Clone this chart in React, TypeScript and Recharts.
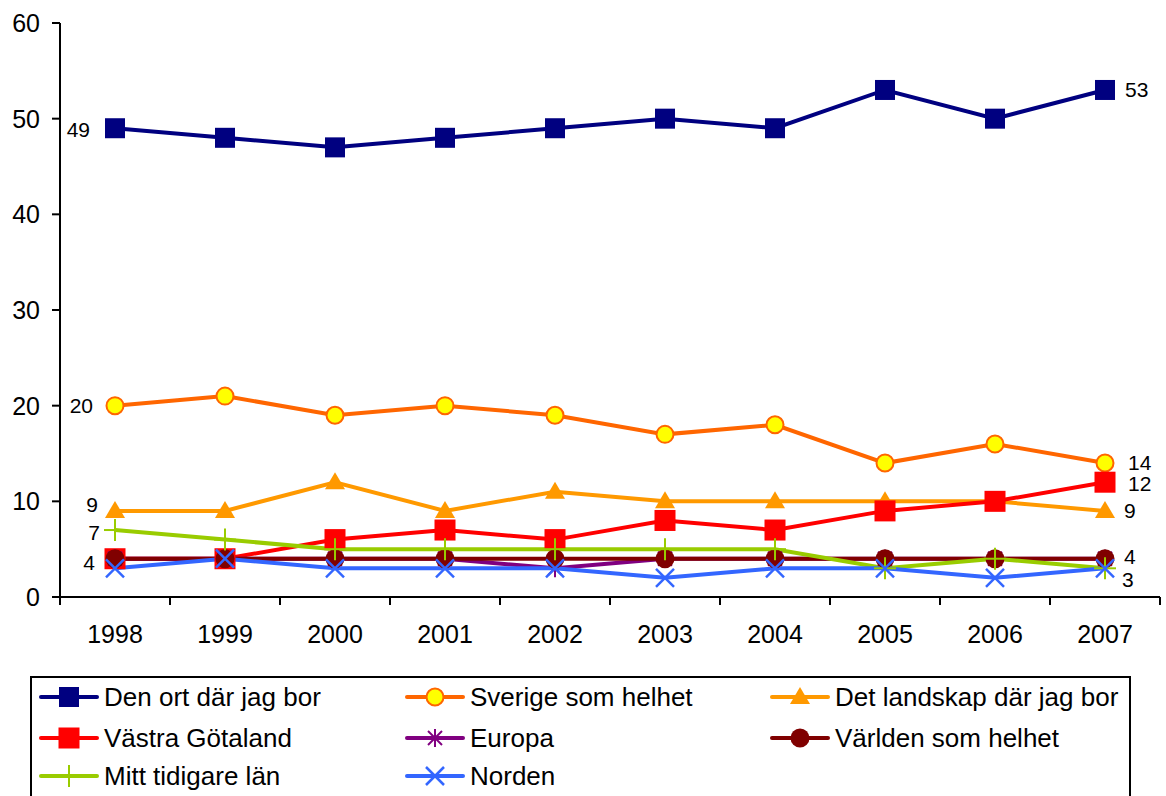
import { LabelList, Legend, Line, LineChart, XAxis, YAxis } from "recharts";

const years = ["1998", "1999", "2000", "2001", "2002", "2003", "2004", "2005", "2006", "2007"];
const denOrt = [49, 48, 47, 48, 49, 50, 49, 53, 50, 53];
const sverige = [20, 21, 19, 20, 19, 17, 18, 14, 16, 14];
const landskap = [9, 9, 12, 9, 11, 10, 10, 10, 10, 9];
const vastra = [4, 4, 6, 7, 6, 8, 7, 9, 10, 12];
const europa = [4, 4, 4, 4, 3, 4, 4, 4, 4, 4];
const varlden = [4, 4, 4, 4, 4, 4, 4, 4, 4, 4];
const mitt = [7, 6, 5, 5, 5, 5, 5, 3, 4, 3];
const norden = [3, 4, 3, 3, 3, 2, 3, 3, 2, 3];
const yTicks = [0, 10, 20, 30, 40, 50, 60];

const data = years.map((year, i) => ({
  year,
  denOrt: denOrt[i],
  sverige: sverige[i],
  landskap: landskap[i],
  vastra: vastra[i],
  europa: europa[i],
  varlden: varlden[i],
  mitt: mitt[i],
  norden: norden[i],
}));

type Marker = "square" | "bigsquare" | "ring" | "triangle" | "star" | "circle" | "plus" | "cross";

type LabelPos = { dx: number; dy: number };

interface SeriesDef {
  key: string;
  name: string;
  color: string;
  marker: Marker;
  first?: LabelPos;
  last?: LabelPos;
}

const series: SeriesDef[] = [
  { key: "denOrt", name: "Den ort där jag bor", color: "#000080", marker: "square", first: { dx: -25, dy: 1 }, last: { dx: 20, dy: 0 } },
  { key: "sverige", name: "Sverige som helhet", color: "#FF6600", marker: "ring", first: { dx: -22, dy: 0 }, last: { dx: 23, dy: -1 } },
  { key: "landskap", name: "Det landskap där jag bor", color: "#FF9900", marker: "triangle", first: { dx: -17, dy: -6 }, last: { dx: 19, dy: 0 } },
  { key: "vastra", name: "Västra Götaland", color: "#FF0000", marker: "bigsquare", last: { dx: 23, dy: 1 } },
  { key: "europa", name: "Europa", color: "#800080", marker: "star" },
  { key: "varlden", name: "Världen som helhet", color: "#800000", marker: "circle", first: { dx: -20, dy: 4 }, last: { dx: 19, dy: -2 } },
  { key: "mitt", name: "Mitt tidigare län", color: "#99CC00", marker: "plus", first: { dx: -15, dy: 2 } },
  { key: "norden", name: "Norden", color: "#3366FF", marker: "cross", last: { dx: 17, dy: 11 } },
];

const FONT = '"Liberation Sans", Arial, sans-serif';
const HALF_BAND = 55;

function drawMarker(kind: Marker, color: string, cx: number, cy: number) {
  switch (kind) {
    case "square":
      return <rect x={cx - 10} y={cy - 10} width={20} height={20} fill={color} />;
    case "bigsquare":
      return <rect x={cx - 10.5} y={cy - 10.5} width={21} height={21} fill={color} />;
    case "ring":
      return <circle cx={cx} cy={cy} r={8.5} fill="#FFFF00" stroke={color} strokeWidth={2} />;
    case "circle":
      return <circle cx={cx} cy={cy} r={9.5} fill={color} />;
    case "triangle":
      return <polygon points={`${cx},${cy - 10} ${cx + 10},${cy + 7} ${cx - 10},${cy + 7}`} fill={color} />;
    case "star":
      return (
        <g stroke={color} strokeWidth={2}>
          <line x1={cx - 7} y1={cy - 7} x2={cx + 7} y2={cy + 7} />
          <line x1={cx - 7} y1={cy + 7} x2={cx + 7} y2={cy - 7} />
          <line x1={cx} y1={cy - 9} x2={cx} y2={cy + 9} />
        </g>
      );
    case "plus":
      return (
        <g stroke={color} strokeWidth={2}>
          <line x1={cx - 11} y1={cy} x2={cx + 11} y2={cy} />
          <line x1={cx} y1={cy - 11} x2={cx} y2={cy + 11} />
        </g>
      );
    case "cross":
      return (
        <g stroke={color} strokeWidth={2.5}>
          <line x1={cx - 9} y1={cy - 9} x2={cx + 9} y2={cy + 9} />
          <line x1={cx - 9} y1={cy + 9} x2={cx + 9} y2={cy - 9} />
        </g>
      );
  }
}

function XTick(props: any) {
  const { x, y, payload, index } = props;
  const isLast = index === years.length - 1;
  return (
    <g>
      <line x1={x - HALF_BAND} x2={x - HALF_BAND} y1={y} y2={y + 8} stroke="#000" strokeWidth={2} />
      {isLast && <line x1={x + HALF_BAND} x2={x + HALF_BAND} y1={y} y2={y + 8} stroke="#000" strokeWidth={2} />}
      <text x={x} y={y + 46} textAnchor="middle" fontSize={25} fontFamily={FONT} fill="#000">
        {payload.value}
      </text>
    </g>
  );
}

function makeLabel(s: SeriesDef) {
  return (props: any) => {
    const { index, value } = props;
    const x = props.x ?? props.viewBox?.x;
    const y = props.y ?? props.viewBox?.y;
    let pos: LabelPos | undefined;
    let anchor: "start" | "end" = "start";
    if (index === 0 && s.first) {
      pos = s.first;
      anchor = "end";
    } else if (index === years.length - 1 && s.last) {
      pos = s.last;
    }
    if (!pos || x == null || y == null) return null;
    return (
      <text
        x={x + pos.dx}
        y={y + pos.dy}
        textAnchor={anchor}
        dominantBaseline="central"
        fontSize={21}
        fontFamily={FONT}
        fill="#000"
      >
        {value}
      </text>
    );
  };
}

const colLeft = [7, 373, 738];
const rowTop = [4, 45, 83];

function LegendBox() {
  return (
    <div style={{ position: "relative", width: "100%", height: "100%", fontFamily: FONT }}>
      {series.map((s, i) => {
        const col = i % 3;
        const row = Math.floor(i / 3);
        return (
          <div
            key={s.key}
            style={{
              position: "absolute",
              left: colLeft[col],
              top: rowTop[row],
              display: "flex",
              alignItems: "center",
              height: 30,
              whiteSpace: "nowrap",
            }}
          >
            <svg width={60} height={30} style={{ display: "block" }}>
              <line x1={2} x2={58} y1={15} y2={15} stroke={s.color} strokeWidth={4} strokeLinecap="round" />
              {drawMarker(s.marker, s.color, 30, 15)}
            </svg>
            <span style={{ marginLeft: 5, fontSize: 26, color: "#000" }}>{s.name}</span>
          </div>
        );
      })}
    </div>
  );
}

export default function App() {
  return (
    <div
      style={{
        position: "fixed",
        left: 0,
        top: 0,
        width: 1166,
        height: 796,
        overflow: "hidden",
        background: "#fff",
      }}
    >
      <LineChart
        width={1166}
        height={796}
        data={data}
        margin={{ top: 23, right: 6, bottom: 159, left: 0 }}
      >
        <XAxis
          dataKey="year"
          height={40}
          padding={{ left: HALF_BAND, right: HALF_BAND }}
          axisLine={{ stroke: "#000", strokeWidth: 2 }}
          tickLine={false}
          tickSize={0}
          tickMargin={0}
          tick={<XTick />}
          interval={0}
        />
        <YAxis
          width={60}
          domain={[0, 60]}
          ticks={yTicks}
          interval={0}
          axisLine={{ stroke: "#000", strokeWidth: 2 }}
          tickLine={{ stroke: "#000", strokeWidth: 2 }}
          tickSize={8}
          tickMargin={12}
          tick={{ fontSize: 25, fill: "#000", fontFamily: FONT }}
        />
        <Legend
          layout="horizontal"
          verticalAlign="middle"
          align="center"
          wrapperStyle={{
            position: "absolute",
            left: 30,
            top: 676,
            width: 1101,
            height: 160,
            border: "2px solid #000",
            boxSizing: "border-box",
            background: "#fff",
          }}
          content={() => <LegendBox />}
        />
        {series.map((s) => (
          <Line
            key={s.key}
            type="linear"
            dataKey={s.key}
            name={s.name}
            stroke={s.color}
            strokeWidth={4}
            dot={(p: any) => <g key={`${s.key}-${p.index}`}>{drawMarker(s.marker, s.color, p.cx, p.cy)}</g>}
            activeDot={false}
            isAnimationActive={false}
          >
            <LabelList dataKey={s.key} content={makeLabel(s)} />
          </Line>
        ))}
      </LineChart>
    </div>
  );
}
